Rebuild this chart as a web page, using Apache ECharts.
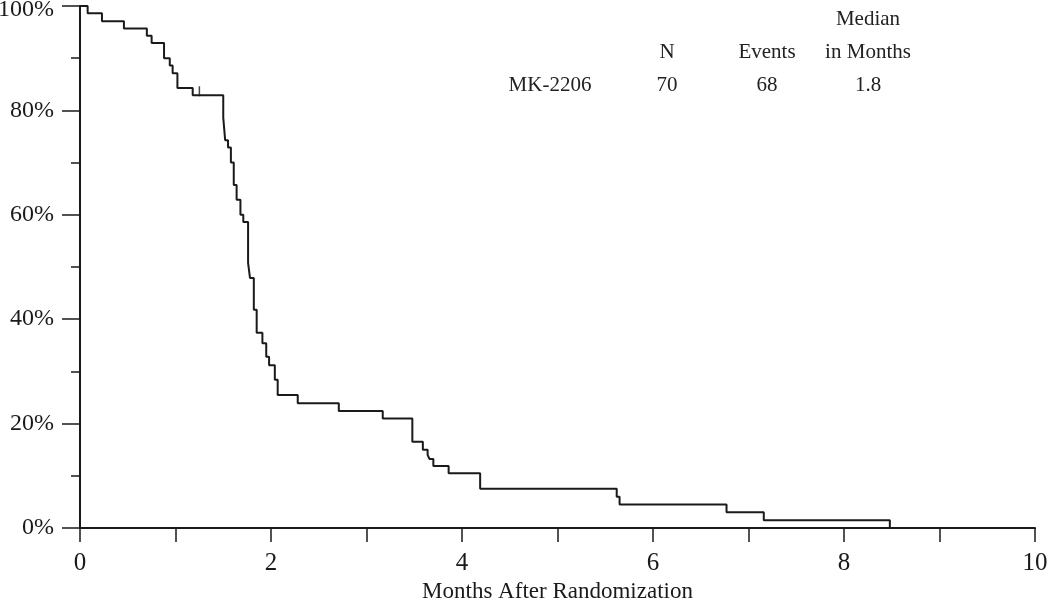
<!DOCTYPE html>
<html>
<head>
<meta charset="utf-8">
<script src="https://cdn.jsdelivr.net/npm/echarts@6/dist/echarts.min.js"></script>
<style>
  html, body { margin: 0; padding: 0; background: #fff; }
  #chart { width: 1050px; height: 599px; }
</style>
</head>
<body>
<div id="chart"></div>
<script>
// survival estimate (%) at each step time (months)
var months = [0, 0.08, 0.23, 0.46, 0.70, 0.75, 0.88, 0.94, 0.97, 1.02, 1.18, 1.50, 1.52, 1.55, 1.58, 1.61, 1.64, 1.68, 1.71, 1.76, 1.78, 1.82, 1.85, 1.91, 1.95, 1.98, 2.04, 2.07, 2.28, 2.71, 3.17, 3.48, 3.59, 3.64, 3.66, 3.70, 3.86, 4.19, 5.62, 5.65, 6.77, 7.16, 8.48];
var survival = [100, 98.6, 97.1, 95.7, 94.3, 92.9, 90.0, 88.6, 87.1, 84.3, 82.9, 78.6, 74.3, 72.9, 70.0, 65.7, 62.9, 60.0, 58.6, 50.8, 47.9, 41.8, 37.4, 35.4, 32.8, 31.2, 28.4, 25.5, 23.9, 22.4, 21.0, 16.5, 15.0, 14.0, 13.2, 11.9, 10.5, 7.5, 6.0, 4.5, 3.0, 1.5, 0];
var censorMonths = [1.25];
var censorSurvival = [82.9];

var xTicks = [0, 2, 4, 6, 8, 10];
var yTicks = [0, 20, 40, 60, 80, 100];

var tableHead1 = ["", "", "", "Median"];
var tableHead2 = ["", "N", "Events", "in Months"];
var tableRow = ["MK-2206", "70", "68", "1.8"];

var chart = echarts.init(document.getElementById("chart"));

var serif = "'Liberation Serif', 'DejaVu Serif', serif";
var ink = "#1a1a1a";

var curve = months.map(function (m, i) { return [m, survival[i]]; });
var censors = censorMonths.map(function (m, i) { return [m, censorSurvival[i]]; });

// table text, placed above the plot
var colX = [550, 667, 767, 868];
var rowY = [19, 52, 85];
var graphics = [];
[tableHead1, tableHead2, tableRow].forEach(function (row, r) {
  row.forEach(function (txt, c) {
    if (!txt) return;
    graphics.push({
      type: "text",
      x: colX[c],
      y: rowY[r],
      style: {
        text: txt,
        fill: "#222",
        font: "21px " + serif,
        textAlign: "center",
        textVerticalAlign: "middle",
      },
    });
  });
});

var option = {
  animation: false,
  backgroundColor: "#fff",
  grid: {
    left: 80,
    right: 15,
    top: 6,
    bottom: 71,
    outerBoundsMode: "none",
  },
  graphic: graphics,
  xAxis: {
    type: "value",
    min: xTicks[0],
    max: xTicks[xTicks.length - 1],
    interval: 2,
    name: "Months After Randomization",
    nameLocation: "middle",
    nameGap: 47,
    nameTextStyle: { fontFamily: serif, fontSize: 23, color: ink },
    axisLine: { show: true, lineStyle: { color: ink, width: 2 } },
    axisTick: { show: true, length: 14, lineStyle: { color: ink, width: 1.5 } },
    minorTick: { show: true, splitNumber: 2, length: 14, lineStyle: { color: ink, width: 1.5 } },
    splitLine: { show: false },
    axisLabel: {
      margin: 23,
      fontFamily: serif,
      fontSize: 25,
      color: ink,
    },
  },
  yAxis: {
    type: "value",
    min: yTicks[0],
    max: yTicks[yTicks.length - 1],
    interval: 20,
    axisLine: { show: true, lineStyle: { color: ink, width: 2 } },
    axisTick: { show: true, length: 18, lineStyle: { color: ink, width: 1.5 } },
    minorTick: { show: true, splitNumber: 2, length: 9, lineStyle: { color: ink, width: 1.5 } },
    splitLine: { show: false },
    axisLabel: {
      margin: 26,
      fontFamily: serif,
      fontSize: 24,
      color: ink,
      formatter: function (v) {
        // top label sits a little lower so it is not cut off
        return v === 100 ? "{top|" + v + "%}" : v + "%";
      },
      rich: {
        top: { fontFamily: serif, fontSize: 24, color: ink, padding: [8, 0, 0, 0] },
      },
    },
  },
  series: [
    {
      name: "MK-2206",
      type: "line",
      step: "end",
      showSymbol: false,
      symbol: "none",
      data: curve,
      lineStyle: { color: ink, width: 2 },
      z: 3,
    },
    {
      name: "censored",
      type: "scatter",
      data: censors,
      symbol: "rect",
      symbolSize: [1.5, 10],
      symbolOffset: [0, -4],
      itemStyle: { color: ink },
      z: 4,
    },
  ],
};

chart.setOption(option);
</script>
</body>
</html>
